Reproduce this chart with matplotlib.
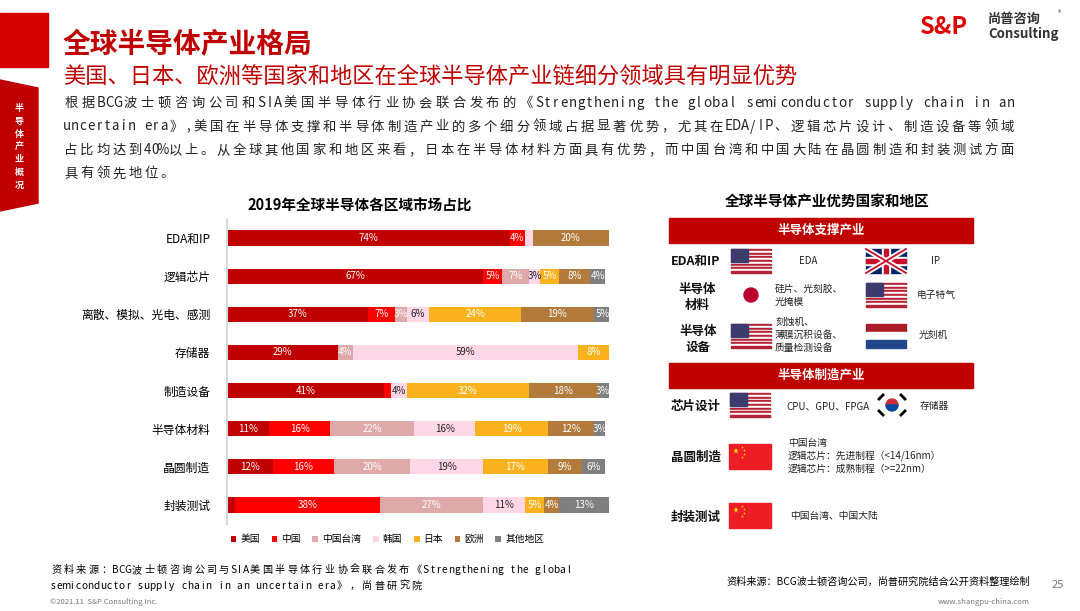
import matplotlib.pyplot as plt
import matplotlib.patches as mpatches
import numpy as np

plt.rcParams['font.family'] = ['Noto Sans CJK SC', 'DejaVu Sans']

# data
segments = ["EDA和IP", "逻辑芯片", "离散、模拟、光电、感测", "存储器", "制造设备", "半导体材料", "晶圆制造", "封装测试"]
regions = ["美国", "中国", "中国台湾", "韩国", "日本", "欧洲", "其他地区"]
shares = {
    "美国":     [74, 67, 37, 29, 41, 11, 12, 2],
    "中国":     [4, 5, 7, 0, 2, 16, 16, 38],
    "中国台湾": [0, 7, 3, 4, 0, 22, 20, 27],
    "韩国":     [2, 3, 6, 59, 4, 16, 19, 11],
    "日本":     [0, 5, 24, 8, 32, 19, 17, 5],
    "欧洲":     [20, 8, 19, 0, 18, 12, 9, 4],
    "其他地区": [0, 4, 5, 0, 3, 3, 6, 13],
}
colors = ["#C00000", "#FF0000", "#E0A9A9", "#FFD7E6", "#F9B21B", "#B27B3C", "#7F7F7F"]
text_colors = ["white", "white", "white", "#222222", "white", "white", "white"]

W, H = 1080, 611
fig = plt.figure(figsize=(W / 100, H / 100), dpi=100)
bg = fig.add_axes([0, 0, 1, 1])
bg.set_xlim(0, W)
bg.set_ylim(H, 0)
bg.axis('off')

RED = "#C00000"


def spaced(x0, y0, line, unit, **kw):
    # place characters on a fixed grid: wide chars take 2 units, ascii 1
    u = 0
    for ch in line:
        w = 1 if ord(ch) < 128 else 2
        bg.text(x0 + (u + w / 2) * unit, y0, ch, ha="center", va="center", **kw)
        u += w


def units(line):
    return sum(1 if ord(c) < 128 else 2 for c in line)


# header decoration
bg.add_patch(mpatches.Rectangle((0, 13), 48, 54, color="#D40000"))
bg.add_patch(mpatches.Polygon([(0, 80), (38, 88), (38, 203), (0, 211)], color=RED))
bg.text(19, 147, "\n".join("半导体产业概况"), color="white", fontsize=6.5,
        ha="center", va="center", linespacing=1.55, fontweight="bold")

bg.text(63, 45, "全球半导体产业格局", color=RED, fontsize=20, fontweight="bold", va="center")
bg.text(63, 76, "美国、日本、欧洲等国家和地区在全球半导体产业链细分领域具有明显优势",
        color=RED, fontsize=16, va="center")
body = ["根据BCG波士顿咨询公司和SIA美国半导体行业协会联合发布的《Strengthening the global semiconductor supply chain in an",
        "uncertain era》,美国在半导体支撑和半导体制造产业的多个细分领域占据显著优势，尤其在EDA/IP、逻辑芯片设计、制造设备等领域",
        "占比均达到40%以上。从全球其他国家和地区来看，日本在半导体材料方面具有优势，而中国台湾和中国大陆在晶圆制造和封装测试方面",
        "具有领先地位。"]
unit = None
for i, line in enumerate(body):
    if i < 3:
        unit = (1015 - 63) / units(line)
    spaced(63, 103 + i * 23.5, line, unit, fontsize=9.6, color="#222222")

# logo
bg.text(920, 27, "S&P", color="#E00000", fontsize=17, fontweight="bold", style="italic", va="center")
bg.text(988, 19, "尚普咨询", color="#333333", fontsize=9.5, fontweight="bold", va="center")
bg.text(988, 34, "Consulting", color="#333333", fontsize=9.5, fontweight="bold", va="center")
bg.text(1058, 13, "®", fontsize=5, color="#333333", va="center")

# stacked bar chart
bg.text(360, 206, "2019年全球半导体各区域市场占比", fontsize=10.5, fontweight="bold", ha="center", va="center")
ax = fig.add_axes([227 / W, 1 - 524 / H, (609 - 227) / W, 305 / H])
ax.patch.set_alpha(0)
y = np.arange(len(segments))
left = np.zeros(len(segments))
for reg, col, tc in zip(regions, colors, text_colors):
    vals = np.array(shares[reg], dtype=float)
    ax.barh(y, vals, left=left, height=0.4, color=col, label=reg)
    for yi, (l, v) in enumerate(zip(left, vals)):
        if v >= 3:
            ax.text(l + v / 2, yi, f"{int(v)}%", color=tc, fontsize=7, ha="center", va="center")
    left += vals
ax.set_ylim(len(segments) - 0.5, -0.5)
ax.set_xlim(0, 100)
ax.set_yticks(y)
ax.set_yticklabels(segments, fontsize=8.5)
ax.tick_params(axis='y', length=0, pad=12)
ax.set_xticks([])
for s in ["top", "right", "bottom"]:
    ax.spines[s].set_visible(False)
ax.spines["left"].set_color("#D9D9D9")
ax.spines["left"].set_linewidth(1.5)
ax.legend(loc="upper center", bbox_to_anchor=(0.42, -0.005), ncol=7, frameon=False, fontsize=7,
          handlelength=0.6, handleheight=0.6, handletextpad=0.4, columnspacing=1.2)

# right panel
bg.text(827, 202, "全球半导体产业优势国家和地区", fontsize=10.5, fontweight="bold", ha="center", va="center")
for y0, txt in [(218, "半导体支撑产业"), (363, "半导体制造产业")]:
    bg.add_patch(mpatches.Rectangle((669, y0), 304, 25, color=RED))
    bg.text(821, y0 + 12.5, txt, color="white", fontsize=9, fontweight="bold", ha="center", va="center")


def us_flag(x, y0, w=40, h=24):
    for k in range(13):
        bg.add_patch(mpatches.Rectangle((x, y0 + k * h / 13), w, h / 13,
                                        color="#B22234" if k % 2 == 0 else "white"))
    bg.add_patch(mpatches.Rectangle((x, y0), w * 0.42, h * 7 / 13, color="#3C3B6E"))


def uk_flag(x, y0, w=40, h=24):
    bg.add_patch(mpatches.Rectangle((x, y0), w, h, color="#012169"))
    bg.plot([x, x + w], [y0, y0 + h], color="white", lw=4)
    bg.plot([x, x + w], [y0 + h, y0], color="white", lw=4)
    bg.plot([x, x + w], [y0, y0 + h], color="#C8102E", lw=1.3)
    bg.plot([x, x + w], [y0 + h, y0], color="#C8102E", lw=1.3)
    bg.add_patch(mpatches.Rectangle((x + w / 2 - 4, y0), 8, h, color="white"))
    bg.add_patch(mpatches.Rectangle((x, y0 + h / 2 - 4), w, 8, color="white"))
    bg.add_patch(mpatches.Rectangle((x + w / 2 - 2.3, y0), 4.6, h, color="#C8102E"))
    bg.add_patch(mpatches.Rectangle((x, y0 + h / 2 - 2.3), w, 4.6, color="#C8102E"))


def jp_flag(x, y0, w=40, h=24):
    bg.add_patch(mpatches.Rectangle((x, y0), w, h, color="white"))
    bg.add_patch(mpatches.Circle((x + w / 2, y0 + h / 2), 7, color="#BC002D"))


def nl_flag(x, y0, w=40, h=24):
    for k, c in enumerate(["#AE1C28", "white", "#21468B"]):
        bg.add_patch(mpatches.Rectangle((x, y0 + k * h / 3), w, h / 3, color=c))


def kr_flag(x, y0, w=30, h=24):
    bg.add_patch(mpatches.Rectangle((x, y0), w, h, color="white"))
    cx, cy = x + w / 2, y0 + h / 2
    bg.add_patch(mpatches.Wedge((cx, cy), 6, 180, 360, color="#CD2E3A"))
    bg.add_patch(mpatches.Wedge((cx, cy), 6, 0, 180, color="#0047A0"))
    for dx, dy in [(-11, -8), (11, -8), (-11, 8), (11, 8)]:
        sgn = 1 if dx * dy < 0 else -1
        bg.plot([cx + dx - 2, cx + dx + 2], [cy + dy - 2 * sgn, cy + dy + 2 * sgn], color="black", lw=2)


def cn_flag(x, y0, w=42, h=25):
    bg.add_patch(mpatches.Rectangle((x, y0), w, h, color="#EE1C25"))
    bg.plot([x + 7], [y0 + 7], marker="*", color="#FFDE00", markersize=5, markeredgewidth=0)
    for dx, dy in [(13, 3), (15, 6), (15, 10), (13, 13)]:
        bg.plot([x + dx], [y0 + dy], marker="*", color="#FFDE00", markersize=2, markeredgewidth=0)


lab = dict(fontsize=9, fontweight="bold", ha="center", va="center", color="#111111")
sm = dict(fontsize=7, va="center", color="#222222")
bg.text(696, 261, "EDA和IP", **lab)
us_flag(731, 249); bg.text(808, 261, "EDA", ha="center", **sm)
uk_flag(866, 249); bg.text(935, 261, "IP", ha="center", **sm)
bg.text(697, 297, "半导体\n材料", linespacing=1.3, **lab)
jp_flag(731, 283); bg.text(775, 295, "硅片、光刻胶、\n光掩模", linespacing=1.4, **sm)
us_flag(866, 283); bg.text(917, 295, "电子特气", **sm)
bg.text(698, 339, "半导体\n设备", linespacing=1.3, **lab)
us_flag(731, 324); bg.text(775, 335, "刻蚀机、\n薄膜沉积设备、\n质量检测设备", linespacing=1.4, **sm)
nl_flag(866, 324); bg.text(919, 335, "光刻机", **sm)
bg.text(696, 406, "芯片设计", **lab)
us_flag(730, 393); bg.text(786, 406, "CPU、GPU、FPGA", **sm)
kr_flag(877, 393); bg.text(920, 406, "存储器", **sm)
bg.text(696, 457, "晶圆制造", **lab)
cn_flag(729, 444); bg.text(788, 456, "中国台湾\n逻辑芯片：先进制程（<14/16nm）\n逻辑芯片：成熟制程（>=22nm）",
                           linespacing=1.35, **sm)
bg.text(696, 517, "封装测试", **lab)
cn_flag(729, 503); bg.text(790, 516, "中国台湾、中国大陆", **sm)

# footer
f1 = "资料来源：BCG波士顿咨询公司与SIA美国半导体行业协会联合发布《Strengthening the global"
funit = (572 - 50) / units(f1)
spaced(50, 570, f1, funit, fontsize=7.3)
spaced(50, 586, "semiconductor supply chain in an uncertain era》，尚普研究院", funit, fontsize=7.3)
bg.text(1030, 582, "资料来源：BCG波士顿咨询公司，尚普研究院结合公开资料整理绘制", fontsize=7.3, ha="right", va="center")
bg.text(1052, 585, "25", fontsize=8, color="#777777", va="center")
bg.text(50, 602, "©2021.11  S&P Consulting Inc.", fontsize=5.5, color="#777777", va="center")
bg.text(1030, 602, "www.shangpu-china.com", fontsize=5.5, color="#777777", ha="right", va="center")

fig.savefig("out.png", dpi=100)
